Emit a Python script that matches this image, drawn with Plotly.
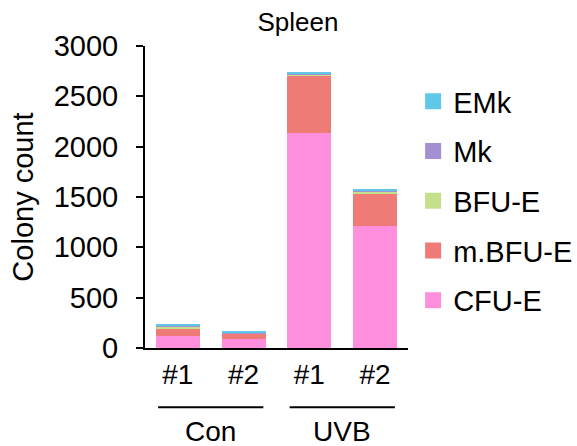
import plotly.graph_objects as go

bar_labels = ["#1", "#2", "#1", "#2"]
groups = ["Con", "UVB"]
series_names = ["CFU-E", "m.BFU-E", "BFU-E", "Mk", "EMk"]
cfu_e = [120, 90, 2140, 1210]
m_bfu_e = [70, 50, 565, 322]
bfu_e = [25, 5, 8, 20]
mk = [5, 3, 4, 5]
emk = [22, 20, 25, 20]
colors = ["#FF8FDD", "#EE7B76", "#C4E08C", "#A48FD2", "#5EC8E6"]

values = [cfu_e, m_bfu_e, bfu_e, mk, emk]
xs = list(range(len(bar_labels)))

fig = go.Figure()
n = len(series_names)
for i, (name, vals, col) in enumerate(zip(series_names, values, colors)):
    fig.add_trace(go.Bar(x=xs, y=vals, name=name, marker=dict(color=col, line=dict(width=0)),
                         width=0.67, legendgroup=name, showlegend=False))
    # legend entry with a larger square swatch
    fig.add_trace(go.Scatter(x=[None], y=[None], mode="markers", name=name, legendgroup=name,
                             marker=dict(symbol="square", size=16, color=col, line=dict(width=0)),
                             legendrank=1000 + (n - i), showlegend=True, hoverinfo="skip"))

font = "Liberation Sans, Arial, sans-serif"
fig.update_layout(
    barmode="stack",
    width=577, height=446,
    margin=dict(l=145, r=169, t=46, b=98, autoexpand=False),
    plot_bgcolor="white", paper_bgcolor="white",
    font=dict(family=font, size=29, color="black"),
    title=dict(text="Spleen", x=298 / 577, xanchor="center", y=1 - 22 / 446, yanchor="middle",
               font=dict(size=26)),
    showlegend=True,
    legend=dict(traceorder="grouped", xref="container", yref="container",
                x=0.716, xanchor="left", y=1 - 76 / 446, yanchor="top", maxheight=400,
                tracegroupgap=9, font=dict(size=29), itemwidth=30, bgcolor="rgba(0,0,0,0)"),
)
fig.update_yaxes(range=[0, 3000], tickvals=[0, 500, 1000, 1500, 2000, 2500, 3000],
                 showline=True, linecolor="black", linewidth=2, ticks="outside", ticklen=7,
                 tickwidth=2, tickcolor="black", showgrid=False, zeroline=False,
                 ticklabelstandoff=12, tickfont=dict(size=29),
                 title=dict(text="Colony count", font=dict(size=29), standoff=12))
fig.update_xaxes(range=[-0.5, 3.5], tickvals=xs, ticktext=bar_labels, showline=True,
                 linecolor="black", linewidth=2, ticks="", showgrid=False, zeroline=False,
                 tickfont=dict(size=28))

for gi, g in enumerate(groups):
    x0 = gi * 2 - 0.3
    x1 = gi * 2 + 1 + 0.3
    fig.add_shape(type="line", xref="x", yref="paper", x0=x0, x1=x1, y0=-0.196, y1=-0.196,
                  line=dict(color="black", width=2))
    fig.add_annotation(xref="x", yref="paper", x=gi * 2 + 0.5, y=-0.278, text=g, showarrow=False,
                       yanchor="middle", font=dict(size=28))

fig.write_html("out.html", config={"displayModeBar": False},
               post_script="document.body.style.margin='0';")
